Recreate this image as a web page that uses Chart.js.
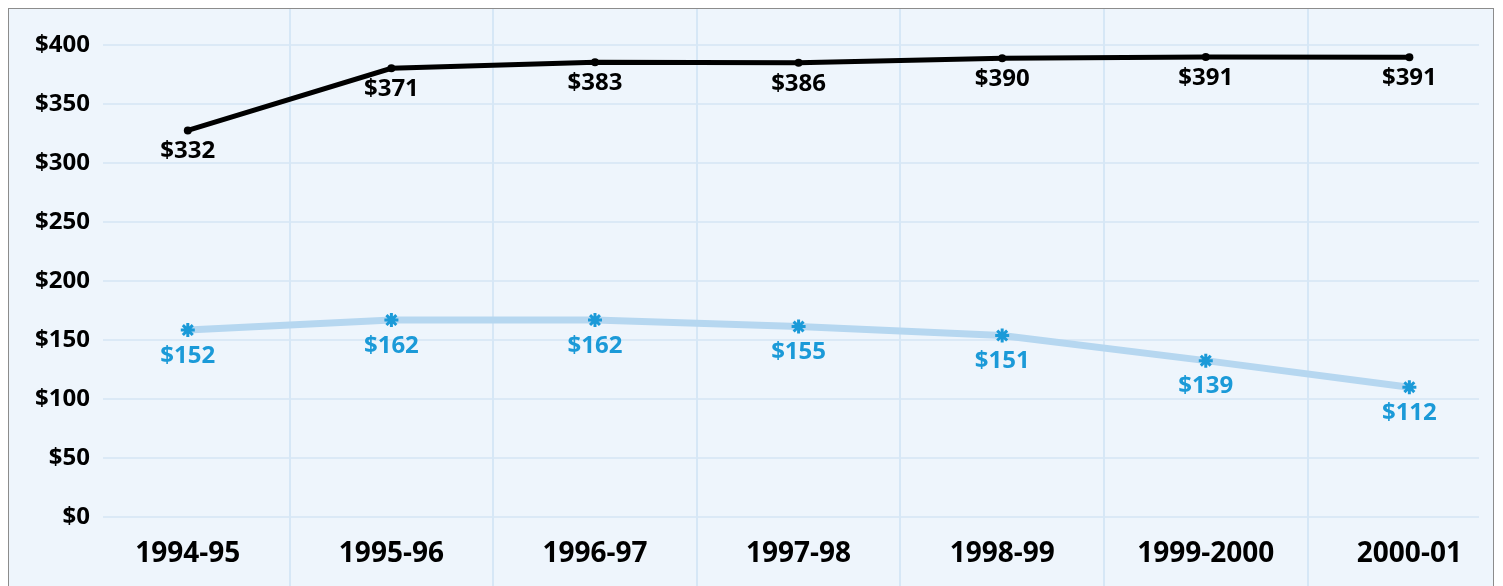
<!DOCTYPE html>
<html>
<head>
<meta charset="utf-8">
<script src="https://cdn.jsdelivr.net/npm/chart.js@4"></script>
<style>
  html, body { margin: 0; padding: 0; background: #ffffff; width: 1503px; height: 586px; overflow: hidden; }
  #panel { position: absolute; left: 8px; top: 8px; width: 1486px; height: 600px; background: #eef5fc; border: 1px solid #8c8c8c; box-sizing: border-box; }
  #wrap { position: absolute; left: 0; top: 0; width: 1503px; height: 586px; }
</style>
</head>
<body>
<div id="panel"></div>
<div id="wrap"><canvas id="c" width="1503" height="586"></canvas></div>
<script>
const categories = ['1994-95', '1995-96', '1996-97', '1997-98', '1998-99', '1999-2000', '2000-01'];
const blackValues = [327.6, 380.3, 385.4, 385.0, 388.7, 389.8, 389.6];
const blackLabels = ['$332', '$371', '$383', '$386', '$390', '$391', '$391'];
const blueValues = [158.4, 166.9, 166.9, 161.4, 153.8, 132.5, 110.0];
const blueLabels = ['$152', '$162', '$162', '$155', '$151', '$139', '$112'];
const yTicks = [0, 50, 100, 150, 200, 250, 300, 350, 400];

const FONT = '"Open Sans", "Noto Sans", sans-serif';

const dividerPlugin = {
  id: 'dividers',
  beforeDatasetsDraw(chart) {
    const x = chart.scales.x, ctx = chart.ctx;
    ctx.save();
    ctx.strokeStyle = '#d6e7f6';
    ctx.lineWidth = 2;
    for (let k = 0; k < categories.length - 1; k++) {
      const px = Math.round(x.getPixelForValue(k + 0.5));
      ctx.beginPath();
      ctx.moveTo(px, 9);
      ctx.lineTo(px, chart.height);
      ctx.stroke();
    }
    ctx.restore();
  }
};

const labelPlugin = {
  id: 'pointLabels',
  afterDatasetsDraw(chart) {
    const ctx = chart.ctx;
    ctx.save();
    ctx.font = 'bold 24px ' + FONT;
    ctx.textAlign = 'center';
    ctx.textBaseline = 'middle';
    chart.data.datasets.forEach((ds, di) => {
      const meta = chart.getDatasetMeta(di);
      meta.data.forEach((el, i) => {
        ctx.fillStyle = ds.labelColor;
        ctx.fillText(ds.valueLabels[i], el.x, el.y + ds.labelOffset);
      });
    });
    ctx.restore();
  }
};

new Chart(document.getElementById('c'), {
  type: 'line',
  data: {
    datasets: [
      {
        data: blueValues.map((v, i) => ({ x: i, y: v })),
        valueLabels: blueLabels,
        labelColor: '#1b9ad8',
        labelOffset: 26,
        borderColor: '#b6d7f0',
        borderWidth: 7,
        pointStyle: 'star',
        pointRadius: 7,
        pointBorderWidth: 3,
        pointBorderColor: '#1b9ad8',
        pointBackgroundColor: '#1b9ad8',
        tension: 0
      },
      {
        data: blackValues.map((v, i) => ({ x: i, y: v })),
        valueLabels: blackLabels,
        labelColor: '#000000',
        labelOffset: 21,
        borderColor: '#000000',
        borderWidth: 5,
        pointStyle: 'circle',
        pointRadius: 4,
        pointBorderWidth: 0,
        pointBackgroundColor: '#000000',
        tension: 0
      }
    ]
  },
  options: {
    responsive: false,
    animation: false,
    events: [],
    layout: { padding: { top: 45, right: 24, bottom: 0, left: 0 } },
    plugins: { legend: { display: false }, tooltip: { enabled: false } },
    scales: {
      x: {
        type: 'linear',
        min: -0.4165,
        max: 6.342,
        afterBuildTicks: (s) => { s.ticks = categories.map((_, i) => ({ value: i })); },
        afterFit: (s) => { s.height = 69; },
        grid: { display: false, drawTicks: false },
        border: { display: false },
        ticks: {
          autoSkip: false,
          maxRotation: 0,
          padding: 20,
          color: '#000000',
          font: { family: FONT, size: 28, weight: 'bold' },
          callback: (v) => categories[v]
        }
      },
      y: {
        min: 0,
        max: 400,
        afterBuildTicks: (s) => { s.ticks = yTicks.map(v => ({ value: v })); },
        afterFit: (s) => { s.width = 103; },
        grid: { color: '#dbe9f6', lineWidth: 2, drawTicks: false },
        border: { display: false },
        ticks: {
          padding: 13,
          color: '#000000',
          font: { family: FONT, size: 24, weight: 'bold' },
          callback: (v) => '$' + v
        }
      }
    }
  },
  plugins: [dividerPlugin, labelPlugin]
});
</script>
</body>
</html>
